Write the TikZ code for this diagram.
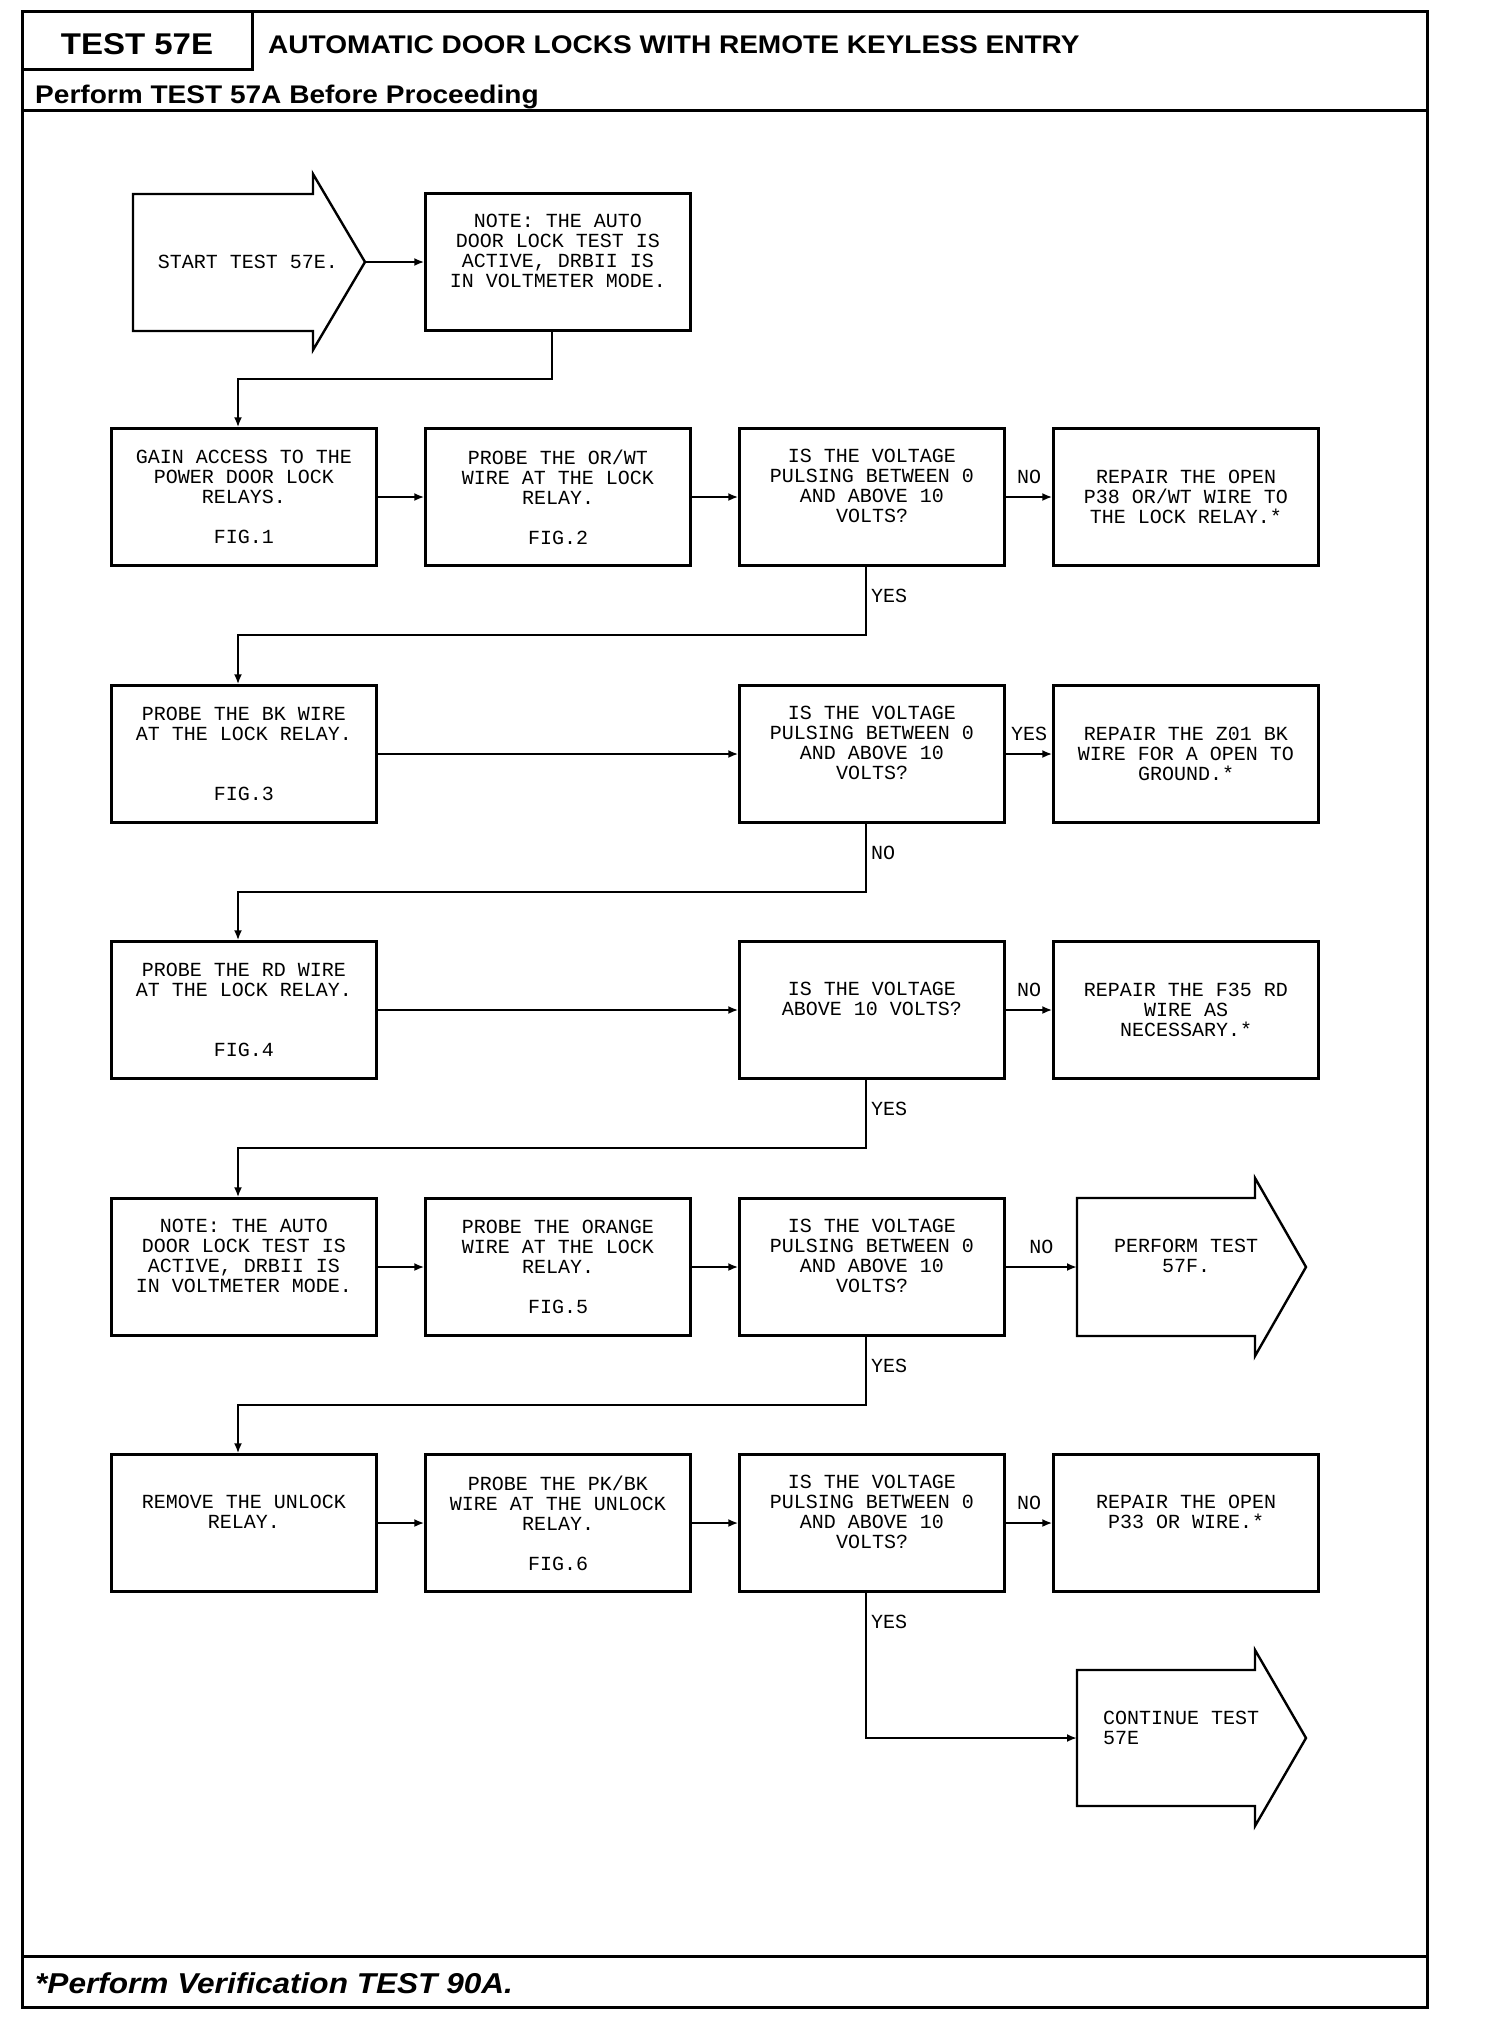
\documentclass[tikz,border=0pt]{standalone}
\usepackage{fontspec}
\setmainfont{Liberation Sans}
\newfontfamily\hdrfont{Liberation Sans}[FakeStretch=1.1]
\newfontfamily\plotfont{Liberation Mono}
\usetikzlibrary{arrows.meta,positioning}

\begin{document}
\begin{tikzpicture}[x=1pt, y=-1pt,
	testbox/.style={draw=black, line width=2.4pt, minimum width=265pt, minimum height=137pt, inner sep=0pt, align=center, font=\plotfont\fontsize{20}{20}\selectfont},
	raised/.style={text depth=23pt},
	txt/.style={inner sep=0pt, font=\plotfont\fontsize{20}{20}\selectfont},
	lbl/.style={inner sep=0pt, font=\plotfont\fontsize{20}{20}\selectfont},
	flow/.style={draw=black, line width=2pt, -{Latex[length=10pt,width=8pt]}},
	arrowline/.style={draw=black, line width=2.4pt, line join=miter},
	rule/.style={draw=black, line width=3pt},
	hdr/.style={inner sep=0pt, font=\hdrfont\fontsize{25.5}{30}\selectfont\bfseries}]
	\useasboundingbox (0,0) rectangle (1504,2018);
	% page frame
	\draw[rule] (22,12) rectangle (1427,2007);
	\draw[rule] (252,12) -- (252,70) -- (22,70);
	\draw[rule] (22,110) -- (1427,110);
	\draw[rule] (22,1956) -- (1427,1956);
	\node[hdr, anchor=base, font=\hdrfont\fontsize{30}{34}\selectfont\bfseries] (testno) at (137,55) {TEST 57E};
	\node[hdr, anchor=base west] (title) at (268,54) {AUTOMATIC DOOR LOCKS WITH REMOTE KEYLESS ENTRY};
	\node[hdr, anchor=base west] (before) at (35,103) {Perform TEST 57A Before Proceeding};
	\node[hdr, anchor=base west, font=\hdrfont\fontsize{28.7}{32}\selectfont\bfseries\itshape] (verify) at (35,1993) {*Perform Verification TEST 90A.};
	% start
	\draw[arrowline] (133,194) -- (313,194) -- (313,174) -- (365,262) -- (313,350) -- (313,331) -- (133,331) -- cycle;
	\coordinate (starttip) at (365,262);
	\node[txt] (start) at (248,262) {START TEST 57E.};
	\node[testbox, raised] (note) at (558,262) {NOTE: THE AUTO\\DOOR LOCK TEST IS\\ACTIVE, DRBII IS\\IN VOLTMETER MODE.};
	% row 1
	\node[testbox] (b11) at (244,497) {GAIN ACCESS TO THE\\POWER DOOR LOCK\\RELAYS.\\[20pt]FIG.1};
	\node[testbox] (b12) at (558,497) {PROBE THE OR/WT\\WIRE AT THE LOCK\\RELAY.\\[20pt]FIG.2};
	\node[testbox, raised] (b13) at (872,497) {IS THE VOLTAGE\\PULSING BETWEEN 0\\AND ABOVE 10\\VOLTS?};
	\node[testbox] (b14) at (1186,497) {REPAIR THE OPEN\\P38 OR/WT WIRE TO\\THE LOCK RELAY.*};
	% row 2
	\node[testbox] (b21) at (244,754) {PROBE THE BK WIRE\\AT THE LOCK RELAY.\\[40pt]FIG.3};
	\node[testbox, raised] (b23) at (872,754) {IS THE VOLTAGE\\PULSING BETWEEN 0\\AND ABOVE 10\\VOLTS?};
	\node[testbox] (b24) at (1186,754) {REPAIR THE Z01 BK\\WIRE FOR A OPEN TO\\GROUND.*};
	% row 3
	\node[testbox] (b31) at (244,1010) {PROBE THE RD WIRE\\AT THE LOCK RELAY.\\[40pt]FIG.4};
	\node[testbox, raised] (b33) at (872,1010) {IS THE VOLTAGE\\ABOVE 10 VOLTS?};
	\node[testbox] (b34) at (1186,1010) {REPAIR THE F35 RD\\WIRE AS\\NECESSARY.*};
	% row 4
	\node[testbox, raised] (b41) at (244,1267) {NOTE: THE AUTO\\DOOR LOCK TEST IS\\ACTIVE, DRBII IS\\IN VOLTMETER MODE.};
	\node[testbox] (b42) at (558,1267) {PROBE THE ORANGE\\WIRE AT THE LOCK\\RELAY.\\[20pt]FIG.5};
	\node[testbox, raised] (b43) at (872,1267) {IS THE VOLTAGE\\PULSING BETWEEN 0\\AND ABOVE 10\\VOLTS?};
	\draw[arrowline] (1077,1198) -- (1255,1198) -- (1255,1178) -- (1306,1267) -- (1255,1356) -- (1255,1336) -- (1077,1336) -- cycle;
	\coordinate (performin) at (1077,1267);
	\node[txt, align=center] (perform) at (1186,1256) {PERFORM TEST\\57F.};
	% row 5
	\node[testbox, raised] (b51) at (244,1523) {REMOVE THE UNLOCK\\RELAY.};
	\node[testbox] (b52) at (558,1523) {PROBE THE PK/BK\\WIRE AT THE UNLOCK\\RELAY.\\[20pt]FIG.6};
	\node[testbox, raised] (b53) at (872,1523) {IS THE VOLTAGE\\PULSING BETWEEN 0\\AND ABOVE 10\\VOLTS?};
	\node[testbox, raised] (b54) at (1186,1523) {REPAIR THE OPEN\\P33 OR WIRE.*};
	\draw[arrowline] (1077,1670) -- (1255,1670) -- (1255,1650) -- (1306,1738) -- (1255,1826) -- (1255,1806) -- (1077,1806) -- cycle;
	\coordinate (continuein) at (1077,1738);
	\node[txt, anchor=west, align=left] (continue) at (1103,1728) {CONTINUE TEST\\57E};
	% connectors
	\draw[flow] (starttip) -- (note);
	\draw[flow] ([xshift=-6pt]note.south) -- ++(0,47) -| ([xshift=-6pt]b11.north);
	\draw[flow] (b11) -- (b12);
	\draw[flow] (b12) -- (b13);
	\draw[flow] (b13) -- node[lbl, above=12pt] {NO} (b14);
	\draw[flow] ([xshift=-6pt]b13.south) -- node[lbl, right=4pt, pos=0.43] {YES} ++(0,68) -| ([xshift=-6pt]b21.north);
	\draw[flow] (b21) -- (b23);
	\draw[flow] (b23) -- node[lbl, above=12pt] {YES} (b24);
	\draw[flow] ([xshift=-6pt]b23.south) -- node[lbl, right=4pt, pos=0.43] {NO} ++(0,68) -| ([xshift=-6pt]b31.north);
	\draw[flow] (b31) -- (b33);
	\draw[flow] (b33) -- node[lbl, above=12pt] {NO} (b34);
	\draw[flow] ([xshift=-6pt]b33.south) -- node[lbl, right=4pt, pos=0.43] {YES} ++(0,68) -| ([xshift=-6pt]b41.north);
	\draw[flow] (b41) -- (b42);
	\draw[flow] (b42) -- (b43);
	\draw[flow] (b43) -- node[lbl, above=12pt] {NO} (performin);
	\draw[flow] ([xshift=-6pt]b43.south) -- node[lbl, right=4pt, pos=0.43] {YES} ++(0,68) -| ([xshift=-6pt]b51.north);
	\draw[flow] (b51) -- (b52);
	\draw[flow] (b52) -- (b53);
	\draw[flow] (b53) -- node[lbl, above=12pt] {NO} (b54);
	\draw[flow] ([xshift=-6pt]b53.south) |- node[lbl, right=4pt, pos=0.1] {YES} (continuein);
\end{tikzpicture}
\end{document}
